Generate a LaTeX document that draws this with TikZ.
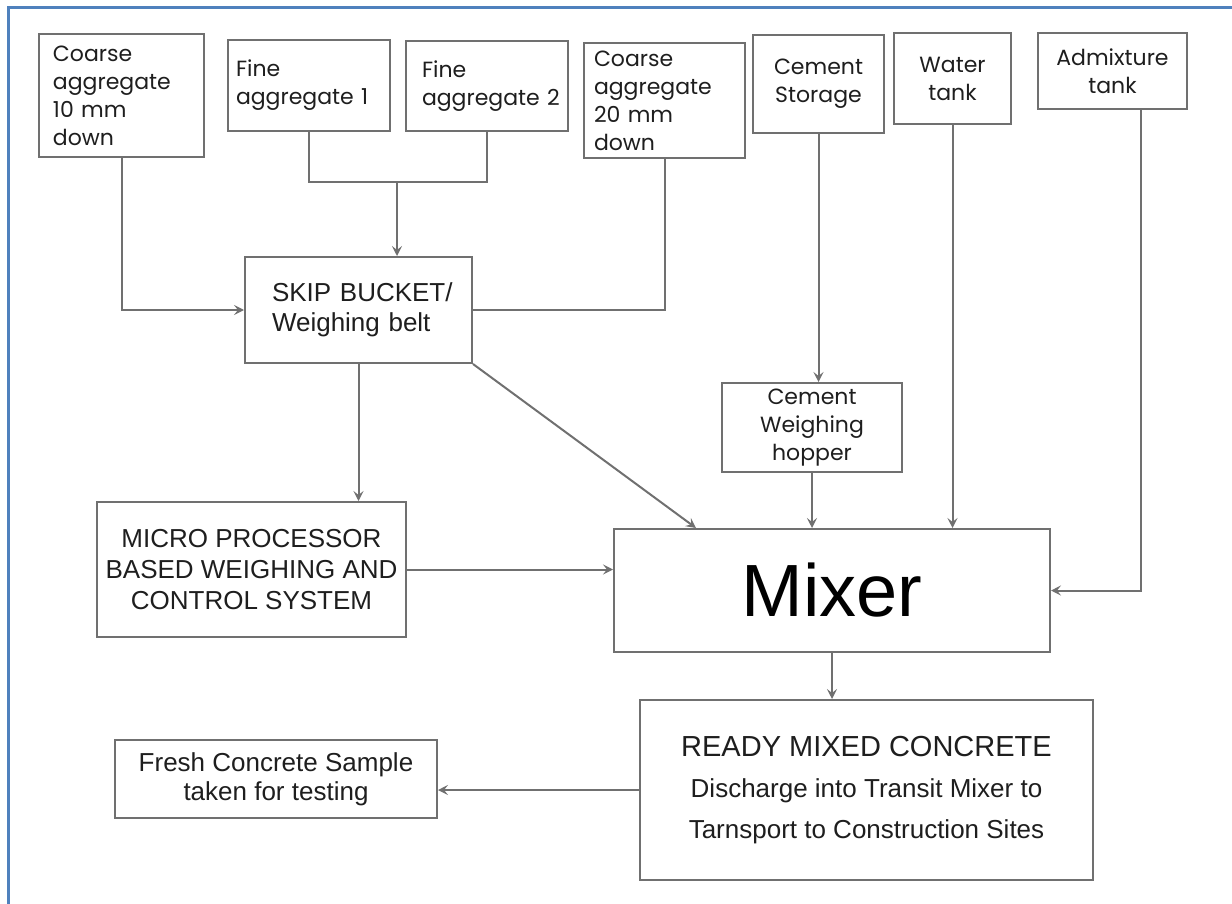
\documentclass[tikz,border=0pt]{standalone}
\usepackage{fontspec}
\setmainfont{Liberation Sans}
\newfontfamily\popfont{Poppins}
\usetikzlibrary{arrows.meta, positioning, calc}
\definecolor{linegray}{RGB}{112,112,112}
\definecolor{inkgray}{RGB}{30,30,30}
\definecolor{frameblue}{RGB}{79,129,189}

\begin{document}
\begin{tikzpicture}[x=0.5pt, y=-0.5pt,
  box/.style={draw=linegray, line width=1pt, text=inkgray, inner ysep=0pt},
  srcbox/.style={box, font=\popfont\fontsize{11}{14}\selectfont},
  plainbox/.style={box, font=\fontsize{13}{15}\selectfont},
  link/.style={draw=linegray, line width=1pt},
  arr/.style={link, -{Stealth[length=5pt, width=5pt, inset=2pt]}}]
\useasboundingbox (0,0) rectangle (1232,904);
\draw[frameblue, line width=1.5pt] (8,904) -- (8,8) -- (1232,8);

% supply bins and tanks
\node[srcbox, align=left, inner xsep=7pt, text width=68.5pt, minimum height=61.5pt] (c10) at (121.5,95.5) {Coarse\\aggregate\\10~mm\\down};
\node[srcbox, align=left, inner xsep=4pt, text width=73pt, minimum height=45.5pt] (f1) at (309,85.5) {Fine\\aggregate~1};
\node[srcbox, align=left, inner xsep=8pt, text width=65pt, minimum height=45pt] (f2) at (487,86) {Fine\\aggregate~2};
\node[srcbox, align=left, inner xsep=5pt, text width=70.5pt, minimum height=57.5pt] (c20) at (664.5,100.5) {Coarse\\aggregate\\20~mm\\down};
\node[srcbox, align=center, minimum width=65.5pt, minimum height=49pt] (cem) at (818.5,84) {Cement\\Storage};
\node[srcbox, align=center, minimum width=58.5pt, minimum height=45.5pt] (wat) at (952.5,78.5) {Water\\tank};
\node[srcbox, align=center, minimum width=74.5pt, minimum height=38pt] (adm) at (1112.5,71) {Admixture\\tank};

% weighing
\node[plainbox, align=left, inner xsep=13.5pt, text width=86.5pt, minimum height=53pt] (skip) at (358.5,310) {SKIP~BUCKET/\\Weighing~belt};
\node[srcbox, align=center, minimum width=90pt, minimum height=44.5pt] (hop) at (812,427.5) {Cement\\Weighing\\hopper};
\node[plainbox, align=center, font=\fontsize{13}{15.5}\selectfont, minimum width=154.5pt, minimum height=67.5pt] (mic) at (251.5,569.5) {MICRO PROCESSOR\\BASED WEIGHING AND\\CONTROL SYSTEM};

% mixing and discharge
\node[box, font=\fontsize{37}{42}\selectfont, text=black, minimum width=218pt, minimum height=61.5pt] (mix) at (832,590.5) {Mixer};
\node[plainbox, align=center, font=\fontsize{13}{20.5}\selectfont, minimum width=226.5pt, minimum height=90pt] (rmc) at (866.5,790) {{\fontsize{14.5}{20.5}\selectfont READY MIXED CONCRETE}\\Discharge into Transit Mixer to\\Tarnsport to Construction Sites};
\node[plainbox, align=center, font=\fontsize{13}{14.5}\selectfont, minimum width=161pt, minimum height=39pt] (fr) at (276,779) {Fresh Concrete Sample\\taken for testing};

% connectors
\coordinate (fjoin) at (397,182);
\draw[arr] (c10.south) |- (skip.west);
\draw[link] (f1.south) |- (fjoin) -| (f2.south);
\draw[arr] (fjoin) -- (fjoin |- skip.north);
\draw[link] (c20.south) |- (skip.east);
\draw[arr] (cem.south) -- (cem.south |- hop.north);
\draw[arr] (hop.south) -- (hop.south |- mix.north);
\draw[arr] (wat.south) -- (wat.south |- mix.north);
\draw[arr] ([xshift=14pt]adm.south) |- (mix.east);
\draw[arr] (skip.south east) -- ([xshift=41.5pt]mix.north west);
\draw[arr] (skip.south) -- (skip.south |- mic.north);
\draw[arr] (mic.east) -- (mic.east -| mix.west);
\draw[arr] (mix.south) -- (mix.south |- rmc.north);
\draw[arr] (rmc.west) -- (rmc.west -| fr.east);
\end{tikzpicture}
\end{document}
